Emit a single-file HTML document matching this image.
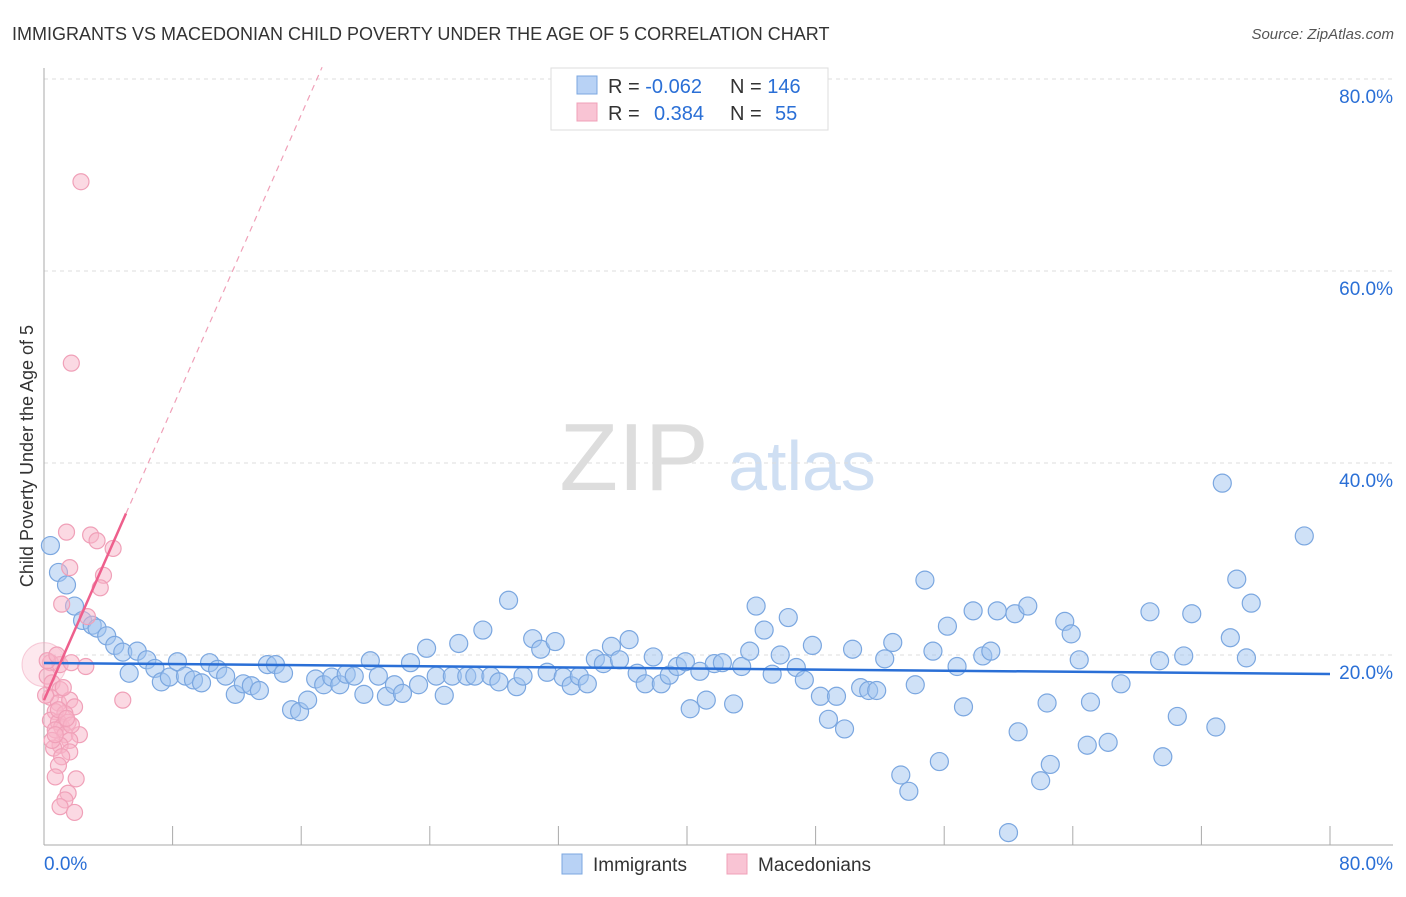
<!DOCTYPE html>
<html><head><meta charset="utf-8">
<style>
body{margin:0;background:#fff;font-family:"Liberation Sans",sans-serif;}
svg text{font-family:"Liberation Sans",sans-serif;}
</style></head>
<body>
<svg id="chart" width="1406" height="892" viewBox="0 0 1406 892" xmlns="http://www.w3.org/2000/svg">
<text x="12" y="40" font-size="18" fill="#333">IMMIGRANTS VS MACEDONIAN CHILD POVERTY UNDER THE AGE OF 5 CORRELATION CHART</text>
<text x="1394" y="39" font-size="15" fill="#555" text-anchor="end" font-style="italic">Source: ZipAtlas.com</text>
<text transform="translate(33,456) rotate(-90)" font-size="18" fill="#333" text-anchor="middle">Child Poverty Under the Age of 5</text>
<g>
<text x="634" y="490" font-size="96" fill="#ddd" text-anchor="middle" font-family="Liberation Serif, serif">ZIP</text>
<text x="802" y="490" font-size="70" fill="#cfdff3" text-anchor="middle">atlas</text>
</g>
<g id="grid"></g>
<g id="axes"></g>
<g id="pts"></g>
<g id="trend"></g>
<g>
<rect x="551" y="68" width="277" height="62" fill="#fff" stroke="#ddd"/>
<rect x="577" y="76" width="20" height="18" fill="#b8d2f5" stroke="#7ba7e0"/>
<rect x="577" y="103" width="20" height="18" fill="#f9c4d4" stroke="#f0a0b8"/>
<text x="608" y="93" font-size="20" fill="#333">R = <tspan fill="#2a6fd6">-0.062</tspan></text>
<text x="730" y="93" font-size="20" fill="#333">N = <tspan fill="#2a6fd6">146</tspan></text>
<text x="608" y="120" font-size="20" fill="#333">R = <tspan fill="#2a6fd6" x="654">0.384</tspan></text>
<text x="730" y="120" font-size="20" fill="#333">N = <tspan fill="#2a6fd6" x="775">55</tspan></text>
</g>
<g>
<rect x="562" y="854" width="20" height="20" fill="#b8d2f5" stroke="#7ba7e0"/>
<text x="593" y="871" font-size="19" fill="#333">Immigrants</text>
<rect x="727" y="854" width="20" height="20" fill="#f9c4d4" stroke="#f0a0b8"/>
<text x="758" y="871" font-size="19" fill="#333">Macedonians</text>
</g>
</svg>
<script>
const xTicks=[0,80];
const yTicks=[20,40,60,80];
const blueX=[0.4,0.9,1.4,1.9,2.4,3.0,3.3,3.9,4.4,4.9,5.3,5.8,6.4,6.9,7.3,7.8,8.3,8.8,9.3,9.8,10.3,10.8,11.3,11.9,12.4,12.9,13.4,13.9,14.4,14.9,15.4,15.9,16.4,16.9,17.4,17.9,18.4,18.8,19.3,19.9,20.3,20.8,21.3,21.8,22.3,22.8,23.3,23.8,24.4,24.9,25.4,25.8,26.3,26.8,27.3,27.8,28.3,28.9,29.4,29.8,30.4,30.9,31.3,31.8,32.3,32.8,33.3,33.8,34.3,34.8,35.3,35.8,36.4,36.9,37.4,37.9,38.4,38.9,39.4,39.9,40.2,40.8,41.2,41.7,42.2,42.9,43.4,43.9,44.3,44.8,45.3,45.8,46.3,46.8,47.3,47.8,48.3,48.8,49.3,49.8,50.3,50.8,51.3,51.8,52.3,52.8,53.3,53.8,54.2,54.8,55.3,55.7,56.2,56.8,57.2,57.8,58.4,58.9,59.3,60.0,60.4,60.6,61.2,62.0,62.4,62.6,63.5,63.9,64.4,64.9,65.1,66.2,67.0,68.8,69.4,69.6,70.5,70.9,71.4,73.3,72.9,73.8,74.2,74.8,75.1,78.4];
const blueY=[31.4,28.6,27.3,25.1,23.6,23.1,22.8,22.0,21.0,20.3,18.1,20.4,19.5,18.6,17.2,17.7,19.3,17.8,17.4,17.1,19.2,18.5,17.8,15.9,17.0,16.8,16.3,19.0,19.0,18.1,14.3,14.1,15.3,17.5,16.9,17.7,16.9,18.0,17.8,15.9,19.4,17.8,15.7,16.9,16.0,19.2,16.9,20.7,17.8,15.8,17.8,21.2,17.8,17.8,22.6,17.8,17.2,25.7,16.7,17.8,21.7,20.6,18.2,21.4,17.7,16.8,17.8,17.0,19.6,19.1,20.9,19.5,21.6,18.1,17.0,19.8,17.0,17.9,18.8,19.3,14.4,18.3,15.3,19.1,19.2,14.9,18.8,20.4,25.1,22.6,18.0,20.0,23.9,18.7,17.4,21.0,15.7,13.3,15.7,12.3,20.6,16.6,16.3,16.3,19.6,21.3,7.5,5.8,16.9,27.8,20.4,8.9,23.0,18.8,14.6,24.6,19.9,20.4,24.6,1.5,24.3,12.0,25.1,6.9,15.0,8.6,23.5,22.2,19.5,10.6,15.1,10.9,17.0,24.5,19.4,9.4,13.6,19.9,24.3,37.9,12.5,21.8,27.9,19.7,25.4,32.4];
const pinkX=[2.3,1.7,1.4,2.9,3.3,4.3,1.6,3.7,3.5,1.1,2.7,0.4,1.0,1.7,2.6,0.2,0.5,1.0,0.4,0.9,1.6,1.9,4.9,0.7,1.3,0.4,0.9,1.1,1.5,0.7,1.3,2.2,1.6,1.0,0.6,1.6,1.1,0.9,2.0,0.7,1.5,1.3,1.0,1.9,0.2,0.8,0.1,1.2,0.5,1.7,0.9,1.4,0.7];
const pinkY=[69.3,50.4,32.8,32.5,31.9,31.1,29.1,28.3,27.0,25.3,24.0,19.2,19.0,19.2,18.8,17.8,17.1,16.4,15.6,15.0,15.3,14.6,15.3,14.1,13.9,13.2,13.0,12.5,13.0,12.2,11.7,11.7,11.1,10.6,10.3,9.9,9.4,8.5,7.1,7.3,5.6,4.9,4.2,3.6,19.4,20.0,15.8,16.6,11.1,12.7,14.3,13.4,11.7];
const blueTrend=[19.17,18.02];
const pinkTrend=[15.3,0.3811]; // intercept, slope (per % x) -> ends
const NS="http://www.w3.org/2000/svg";
const X=v=>44+v*(1286/80), Y=v=>847-v*9.6;
function mk(tag,attrs,parent){const e=document.createElementNS(NS,tag);for(const k in attrs)e.setAttribute(k,attrs[k]);parent.appendChild(e);return e;}
const grid=document.getElementById('grid'),axes=document.getElementById('axes'),pts=document.getElementById('pts'),trend=document.getElementById('trend');
yTicks.forEach(t=>{
 const l=mk('line',{x1:44,x2:1393,y1:Y(t),y2:Y(t),stroke:'#ddd','stroke-dasharray':'4,4'},grid);
 
 
 const tx=mk('text',{x:1393,y:Y(t)+24,'font-size':19,fill:'#2a6fd6','text-anchor':'end'},axes);
 tx.textContent=t.toFixed(1)+'%';
 
 
});
let a=mk('line',{x1:44,x2:44,y1:68,y2:845,stroke:'#aaa'},axes);


a=mk('line',{x1:44,x2:1393,y1:845,y2:845,stroke:'#aaa'},axes);


for(let i=1;i<=10;i++){const tk=mk('line',{x1:X(i*8),x2:X(i*8),y1:826,y2:845,stroke:'#aaa'},axes);
 
 }
xTicks.forEach((t,i)=>{const tx=mk('text',{x:i==0?44:1393,y:870,'font-size':19,fill:'#2a6fd6','text-anchor':i==0?'start':'end'},axes);
 tx.textContent=t.toFixed(1)+'%';
 
 });
const big=mk('circle',{cx:X(0),cy:Y(19),r:22,fill:'rgba(248,180,200,0.3)',stroke:'rgba(240,160,184,0.5)'},pts);


blueX.forEach((x,i)=>{const c=mk('circle',{cx:X(x),cy:Y(blueY[i]),r:9,fill:'rgba(160,196,240,0.5)',stroke:'#7ba7e0','stroke-width':1.2},pts);
 
 });
pinkX.forEach((x,i)=>{const c=mk('circle',{cx:X(x),cy:Y(pinkY[i]),r:8,fill:'rgba(248,180,200,0.5)',stroke:'#f0a0b8','stroke-width':1.2},pts);
 
 });
let t=mk('line',{x1:X(0),x2:X(80),y1:Y(blueTrend[0]),y2:Y(blueTrend[1]),stroke:'#2a6fd6','stroke-width':2.5},trend);


const pf=x=>pinkTrend[0]+pinkTrend[1]*x*10;
t=mk('line',{x1:X(0),x2:X(5.1),y1:Y(pf(0)),y2:Y(pf(5.1)),stroke:'#ee5f8c','stroke-width':2.5},trend);


t=mk('line',{x1:X(5.1),x2:X(17.3),y1:Y(pf(5.1)),y2:Y(pf(17.3)),stroke:'#f0a0b8','stroke-width':1.2,'stroke-dasharray':'6,5'},trend);


</script>
</body></html>
